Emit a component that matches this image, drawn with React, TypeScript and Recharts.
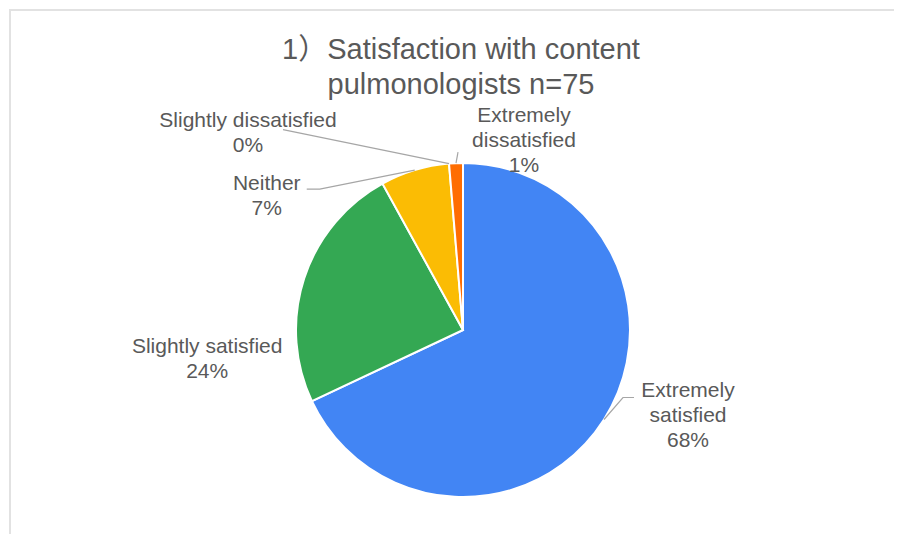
import { PieChart, Pie, Cell } from "recharts";

const CATEGORIES = [
  "Extremely satisfied",
  "Slightly satisfied",
  "Neither",
  "Slightly dissatisfied",
  "Extremely dissatisfied",
];
const COUNTS = [51, 18, 5, 0, 1];
const TITLE_LINES = ["1）Satisfaction with content", "pulmonologists n=75"];

const COLORS = ["#4285F4", "#34A853", "#FBBC04", "#EA4335", "#FF6D01"];

// label placement relative to the slice's outer edge point (dx, dy = first baseline)
const LABEL_LAYOUT = [
  { dx: 84, dy: -22, wrap: true, line: [[19, -22], [30, -22]] },
  { dx: -97, dy: 75, wrap: false, line: [] },
  { dx: -148, dy: 20, wrap: false, line: [[-95, 19], [-108, 19]] },
  { dx: -201, dy: -37, wrap: false, line: [[-166, -34]] },
  { dx: 68, dy: -41, wrap: true, line: [[2, -11]] },
];

const FONT = '"Liberation Sans", Arial, "Noto Sans CJK SC", sans-serif';
const TEXT_COLOR = "#595959";
const RAD = Math.PI / 180;

const chartData = CATEGORIES.map((name, i) => ({ name, value: COUNTS[i] }));

function renderLabel(props: any) {
  const { cx, cy, midAngle, outerRadius, percent, index, name } = props;
  const ex = cx + Math.cos(-midAngle * RAD) * outerRadius;
  const ey = cy + Math.sin(-midAngle * RAD) * outerRadius;
  const layout = LABEL_LAYOUT[index];
  const lines = layout.wrap ? name.split(" ") : [name];
  lines.push(`${Math.round((percent ?? 0) * 100)}%`);
  const pts = [[ex, ey], ...layout.line.map(([x, y]) => [ex + x, ey + y])];
  return (
    <g key={`label-${index}`}>
      {pts.length > 1 && (
        <polyline
          points={pts.map((p) => p.join(",")).join(" ")}
          fill="none"
          stroke="#a6a6a6"
          strokeWidth={1.2}
        />
      )}
      <text
        x={ex + layout.dx}
        y={ey + layout.dy}
        textAnchor="middle"
        fill={TEXT_COLOR}
        fontSize={21}
        fontFamily={FONT}
      >
        {lines.map((t: string, i: number) => (
          <tspan key={i} x={ex + layout.dx} dy={i === 0 ? 0 : 25}>
            {t}
          </tspan>
        ))}
      </text>
    </g>
  );
}

export default function App() {
  return (
    <div style={{ position: "relative", width: 902, height: 542, margin: -8, background: "#fff", overflow: "hidden" }}>
      <div
        style={{
          position: "absolute",
          left: 9,
          top: 9,
          right: 0,
          bottom: 0,
          borderTop: "2px solid #e2e2e2",
          borderLeft: "2px solid #e2e2e2",
        }}
      />
      <svg width={902} height={542} style={{ position: "absolute", left: 0, top: 0 }}>
        {TITLE_LINES.map((t, i) => (
          <text
            key={i}
            x={461}
            y={59 + i * 35}
            textAnchor="middle"
            fill={TEXT_COLOR}
            fontSize={29}
            fontFamily={FONT}
          >
            {t}
          </text>
        ))}
      </svg>
      <div style={{ position: "absolute", left: 0, top: 0 }}>
        <PieChart width={902} height={542} margin={{ top: 0, right: 0, bottom: 0, left: 0 }}>
          <Pie
            data={chartData}
            dataKey="value"
            nameKey="name"
            cx={463}
            cy={330}
            outerRadius={167}
            startAngle={90}
            endAngle={-270}
            stroke="#ffffff"
            strokeWidth={2}
            label={renderLabel}
            labelLine={false}
            isAnimationActive={false}
          >
            {chartData.map((_, i) => (
              <Cell key={`cell-${i}`} fill={COLORS[i]} />
            ))}
          </Pie>
        </PieChart>
      </div>
    </div>
  );
}
